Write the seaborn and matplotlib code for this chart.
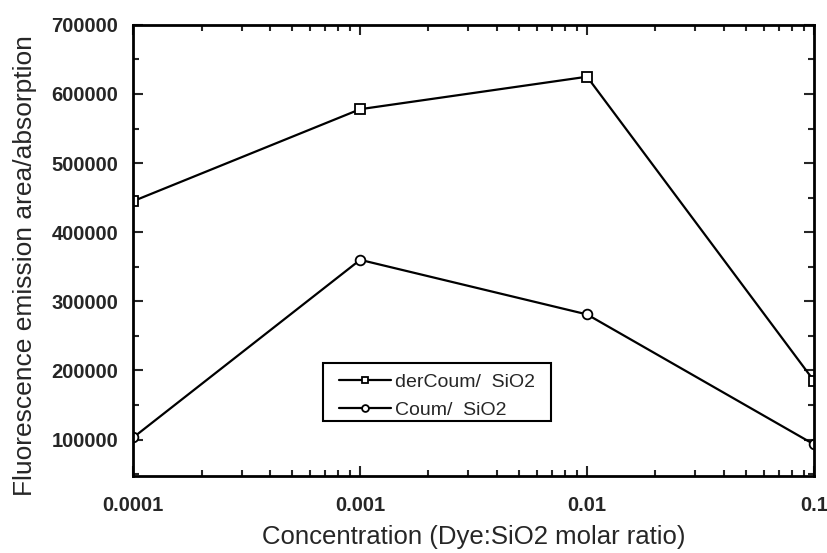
import matplotlib
matplotlib.use("Agg")
import matplotlib.pyplot as plt
from matplotlib.patches import Rectangle
import seaborn as sns
import pandas as pd
from matplotlib.ticker import MultipleLocator, LogLocator, NullFormatter, FixedLocator, FixedFormatter

# values
concentration = [0.0001, 0.001, 0.01, 0.1]
der_coum = [445000, 578000, 625000, 185000]
coum = [103000, 360000, 281000, 93000]
series_names = ["derCoum/  SiO2", "Coum/  SiO2"]
x_tick_labels = ["0.0001", "0.001", "0.01", "0.1"]
y_ticks = [100000, 200000, 300000, 400000, 500000, 600000, 700000]

df = pd.DataFrame({
    "conc": concentration * 2,
    "value": der_coum + coum,
    "series": [series_names[0]] * 4 + [series_names[1]] * 4,
})

sns.set_style("ticks")
plt.rcParams["font.family"] = ["Liberation Sans", "DejaVu Sans"]

fig = plt.figure(figsize=(8.28, 5.53), dpi=100)
ax = fig.add_axes([0.161, 0.139, 0.822, 0.816])

sns.lineplot(data=df, x="conc", y="value", hue="series", style="series",
             markers={series_names[0]: "s", series_names[1]: "o"}, dashes=False,
             palette=["black", "black"], linewidth=1.6, markersize=7,
             markerfacecolor="white", markeredgecolor="black", markeredgewidth=1.3,
             ax=ax)

ax.set_xscale("log")
ax.set_xlim(0.0001, 0.1)
ax.set_ylim(47000, 700000)
ax.xaxis.set_major_locator(FixedLocator(concentration))
ax.xaxis.set_major_formatter(FixedFormatter(x_tick_labels))
ax.xaxis.set_minor_locator(LogLocator(base=10, subs=range(2, 10)))
ax.xaxis.set_minor_formatter(NullFormatter())
ax.yaxis.set_major_locator(FixedLocator(y_ticks))
ax.yaxis.set_minor_locator(MultipleLocator(50000))

ax.tick_params(which="both", direction="in", top=True, right=True, width=1.5)
ax.tick_params(which="major", length=7, labelsize=14.5)
ax.tick_params(which="minor", length=4)
ax.tick_params(axis="x", pad=14)
ax.tick_params(axis="y", pad=11)
for lab in ax.get_xticklabels() + ax.get_yticklabels():
    lab.set_fontweight("bold")
for sp in ax.spines.values():
    sp.set_linewidth(2)
    sp.set_color("black")

ax.set_xlabel("Concentration (Dye:SiO2 molar ratio)", fontsize=18.5)
ax.set_ylabel("Fluorescence emission area/absorption", fontsize=19)
ax.xaxis.set_label_coords(0.5, -0.108)
ax.yaxis.set_label_coords(-0.142, 0.466)

leg = ax.legend(loc="center", bbox_to_anchor=(0.446, 0.177), fontsize=14,
                frameon=False, handlelength=2.7, handletextpad=0.2,
                borderpad=0.3, labelspacing=0.52, markerscale=0.7)
leg.set_zorder(5)
ax.add_patch(Rectangle((0.278, 0.122), 0.335, 0.129, transform=ax.transAxes,
                       facecolor="white", edgecolor="black", linewidth=1.5, zorder=4))

fig.savefig("out.png", dpi=100)
